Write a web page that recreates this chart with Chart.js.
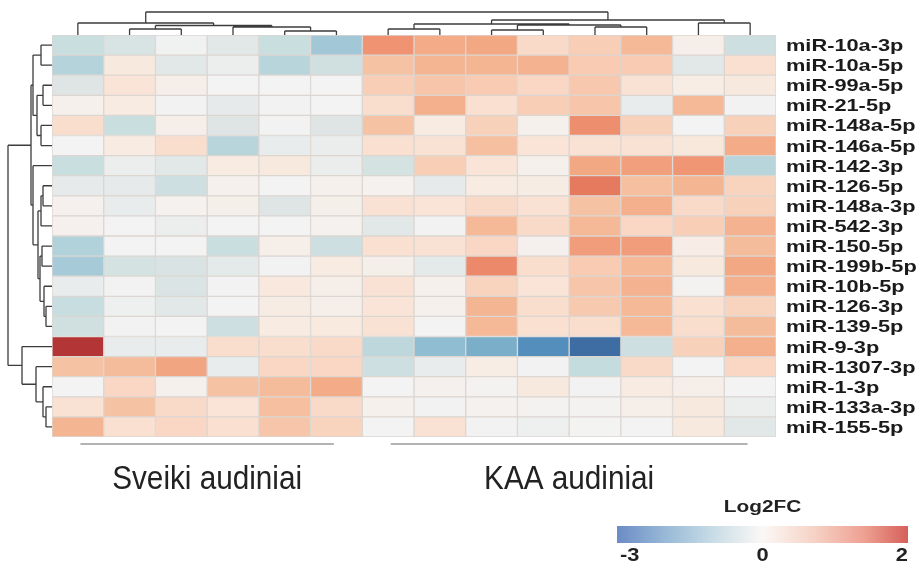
<!DOCTYPE html>
<html>
<head>
<meta charset="utf-8">
<script src="https://cdn.jsdelivr.net/npm/chart.js@4.4.1/dist/chart.umd.min.js"></script>
<style>
  html, body { margin: 0; padding: 0; background: #fff; }
  #wrap { width: 918px; height: 563px; }
</style>
</head>
<body>
<div id="wrap"><canvas id="heatmap" width="918" height="563"></canvas></div>
<script>
// Eilučių pavadinimai (miRNR)
const rowLabels = ['miR-10a-3p', 'miR-10a-5p', 'miR-99a-5p', 'miR-21-5p', 'miR-148a-5p',
    'miR-146a-5p', 'miR-142-3p', 'miR-126-5p', 'miR-148a-3p', 'miR-542-3p',
    'miR-150-5p', 'miR-199b-5p', 'miR-10b-5p', 'miR-126-3p', 'miR-139-5p',
    'miR-9-3p', 'miR-1307-3p', 'miR-1-3p', 'miR-133a-3p', 'miR-155-5p'];

// Mėginių grupės
const groupLabels = ['Sveiki audiniai', 'KAA audiniai'];
const groupSizes = [6, 8];

// Log2FC reikšmės: kiekviena eilutė = miRNR, stulpeliai = mėginiai
const log2fc = [
    [-0.6, -0.4, -0.05, -0.25, -0.6, -1.1, 1.75, 1.35, 1.4, 0.6, 0.8, 1.15, 0.15, -0.55],
    [-0.85, 0.3, -0.25, -0.1, -0.8, -0.5, 1.0, 1.2, 1.2, 1.25, 0.85, 0.85, -0.25, 0.5],
    [-0.3, 0.4, 0.15, 0, 0, 0, 0.8, 0.95, 0.85, 0.65, 0.9, 0.45, 0.2, 0.3],
    [0.1, 0.25, -0.02, -0.2, -0.02, 0, 0.55, 1.3, 0.5, 0.8, 0.95, -0.15, 1.15, 0.02],
    [0.55, -0.6, 0.15, -0.3, -0.02, -0.3, 1.0, 0.25, 0.75, 0.1, 1.8, 0.75, 0, 0.75],
    [0, 0.25, 0.55, -0.8, -0.15, -0.12, 0.5, 0.45, 1.05, 0.4, 0.45, 0.45, 0.35, 1.35],
    [-0.6, -0.1, -0.25, 0.25, 0.3, -0.12, -0.45, 0.8, 0.4, 0.1, 1.4, 1.55, 1.7, -0.8],
    [-0.2, -0.2, -0.55, 0.08, 0, 0.1, 0.05, -0.2, 0.25, 0.22, 2.0, 1.05, 1.2, 0.7],
    [0.08, -0.15, 0.06, 0.12, -0.3, 0.12, 0.45, 0.4, 0.6, 0.45, 1.0, 1.3, 0.6, 0.75],
    [0.08, 0, -0.1, 0, 0, 0.05, -0.25, -0.02, 1.15, 0.6, 1.15, 0.65, 0.8, 1.25],
    [-0.9, 0, 0, -0.6, 0.15, -0.55, 0.5, 0.45, 0.65, 0.08, 1.6, 1.6, 0.18, 1.1],
    [-1.05, -0.45, -0.38, -0.22, 0.02, 0.25, 0.12, -0.22, 1.85, 0.55, 0.85, 1.15, 0.3, 1.4],
    [-0.15, 0.02, -0.35, -0.02, 0.32, 0.15, 0.45, 0.1, 0.7, 0.4, 0.95, 1.25, 0.03, 1.3],
    [-0.62, -0.08, -0.25, 0, 0.22, 0.15, 0.4, 0.1, 1.2, 0.55, 0.88, 1.15, 0.5, 0.7],
    [-0.5, 0.02, 0, -0.55, 0.25, 0.28, 0.45, 0, 1.15, 0.5, 0.55, 1.15, 0.55, 1.1],
    [3.0, -0.15, -0.15, 0.55, 0.55, 0.6, -0.75, -1.35, -1.75, -2.4, -3.0, -0.55, 0.75, 1.3],
    [1.0, 1.1, 1.45, -0.15, 0.65, 0.65, -0.55, -0.15, 0.2, -0.02, -0.65, 0.6, 0, 0.65],
    [0, 0.65, 0.1, 1.0, 1.1, 1.35, 0, 0.08, 0.03, 0.3, 0.02, 0.25, 0.15, 0],
    [0.45, 1.0, 0.6, 0.4, 1.05, 0.6, 0.1, 0.02, 0.05, 0.03, 0.03, 0.15, 0.3, -0.1],
    [1.2, 0.5, 0.65, 0.5, 0.95, 0.7, 0, 0.45, -0.02, -0.08, 0.01, 0, 0.3, -0.25]
];

// Dendrogramos (hclust stiliaus sujungimai: neigiamas = lapas, teigiamas = ankstesnis sujungimas)
const colMerges = [[-5, -6], [-2, -3], [-4, 1], [2, 3], [-1, 4], [-11, -12], [-9, -10],
    [-7, -8], [7, 6], [8, 9], [-13, -14], [10, 11], [5, 12]];
const colHeights = [4, 6, 8, 9.5, 12, 8, 5, 6, 10, 11, 12, 15, 23];

const rowMerges = [[-1, -2], [-3, -4], [-5, -6], [2, 3], [1, 4], [-8, -9], [-10, 6],
    [-11, -12], [-14, -15], [-13, 9], [8, 10], [7, 11], [-7, 12], [5, 13],
    [-19, -20], [-18, 15], [-17, 16], [-16, 17], [14, 18]];
const rowHeights = [11, 9, 11, 15, 19, 9, 11, 10, 6, 8, 12, 14, 19, 21, 6, 9, 16, 30, 44];

// Spalvų skalės žymės
const legendTicks = [-3, 0, 2];

// Spalvų paletė langeliams
const paleta = [
    [-3.0, '#3e6da3'], [-2.4, '#548ebd'], [-1.75, '#7aaec9'], [-1.35, '#91bdd3'],
    [-1.0, '#a9ccd9'], [-0.6, '#c9dedf'], [-0.3, '#dfe5e5'], [0, '#f3f3f3'],
    [0.25, '#f8ebe1'], [0.5, '#f9e0d1'], [0.8, '#f8ceb6'], [1.1, '#f5bc9b'],
    [1.4, '#f3a884'], [1.75, '#ef9372'], [2.0, '#e67a5f'], [3.0, '#b33535']
];

function hexToRgb(h) {
    return [parseInt(h.slice(1, 3), 16), parseInt(h.slice(3, 5), 16), parseInt(h.slice(5, 7), 16)];
}

function colorFor(v) {
    if (v <= paleta[0][0]) return paleta[0][1];
    for (let i = 1; i < paleta.length; i++) {
        if (v <= paleta[i][0]) {
            const [v0, c0] = paleta[i - 1];
            const [v1, c1] = paleta[i];
            const t = (v - v0) / (v1 - v0);
            const a = hexToRgb(c0), b = hexToRgb(c1);
            const rgb = a.map((x, k) => Math.round(x + (b[k] - x) * t));
            return `rgb(${rgb[0]},${rgb[1]},${rgb[2]})`;
        }
    }
    return paleta[paleta.length - 1][1];
}

function texto(ctx, str, x, y, font, color, align, sx) {
    ctx.save();
    ctx.font = font;
    ctx.fillStyle = color;
    ctx.textAlign = align;
    ctx.textBaseline = 'alphabetic';
    ctx.translate(x, y);
    ctx.scale(sx, 1);
    ctx.fillText(str, 0, 0);
    ctx.restore();
}

// Dendrogramos piešimas: pos(lapas) -> pikselis, h -> pikselis
function piestiDendrograma(ctx, merges, heights, leafPos, heightPx, vertical) {
    const nodes = [];
    const node = (id) => id < 0 ? { p: leafPos(-id - 1), h: 0 } : nodes[id - 1];
    ctx.save();
    ctx.strokeStyle = '#3c3c3c';
    ctx.lineWidth = 1.3;
    ctx.beginPath();
    merges.forEach((m, i) => {
        const a = node(m[0]), b = node(m[1]);
        const hm = heightPx(heights[i]);
        const seg = (p, h1, h2) => {
            if (vertical) { ctx.moveTo(p, h1); ctx.lineTo(p, h2); }
            else { ctx.moveTo(h1, p); ctx.lineTo(h2, p); }
        };
        seg(a.p, heightPx(a.h), hm);
        seg(b.p, heightPx(b.h), hm);
        if (vertical) { ctx.moveTo(a.p, hm); ctx.lineTo(b.p, hm); }
        else { ctx.moveTo(hm, a.p); ctx.lineTo(hm, b.p); }
        nodes.push({ p: (a.p + b.p) / 2, h: heights[i] });
    });
    ctx.stroke();
    ctx.restore();
}

const nCols = groupSizes.reduce((a, b) => a + b, 0);

const priedai = {
    id: 'priedai',
    afterDraw(chart) {
        const ctx = chart.ctx;
        const x = chart.scales.x, y = chart.scales.y;
        const area = chart.chartArea;

        // Stulpelių dendrograma
        piestiDendrograma(ctx, colMerges, colHeights,
            i => x.getPixelForValue(i + 0.5), h => area.top - h, true);
        // Eilučių dendrograma
        piestiDendrograma(ctx, rowMerges, rowHeights,
            i => y.getPixelForValue(i), h => area.left - h, false);

        // Eilučių pavadinimai
        rowLabels.forEach((lab, i) => {
            texto(ctx, lab, area.right + 10, y.getPixelForValue(i) + 6,
                'bold 16.5px "Liberation Sans", Arial, sans-serif', '#1a1a1a', 'left', 1.32);
        });

        // Grupių linijos ir pavadinimai
        let start = 0;
        groupSizes.forEach((n, g) => {
            const end = start + n;
            const x1 = x.getPixelForValue(start + 0.55), x2 = x.getPixelForValue(end - 0.55);
            ctx.save();
            ctx.strokeStyle = '#9a9a9a';
            ctx.lineWidth = 1.5;
            ctx.beginPath();
            ctx.moveTo(x1, area.bottom + 7);
            ctx.lineTo(x2, area.bottom + 7);
            ctx.stroke();
            ctx.restore();
            texto(ctx, groupLabels[g], x.getPixelForValue((start + end) / 2), 489,
                '33px "Liberation Sans", Arial, sans-serif', '#222', 'center', 0.9);
            start = end;
        });

        // Spalvų skalė
        const lx = 617, lw = 291, ly = 526, lh = 17;
        const frac = v => v < 0 ? 0.5 * (v - legendTicks[0]) / (0 - legendTicks[0])
            : 0.5 + 0.5 * v / legendTicks[legendTicks.length - 1];
        const grad = ctx.createLinearGradient(lx, 0, lx + lw, 0);
        [[-3, '#6b8cc5'], [-2, '#98b9d7'], [-1, '#c9dde6'], [0, '#fbf8f6'],
         [0.7, '#f6d3c6'], [1.4, '#eea092'], [2, '#d6605a']].forEach(([v, c]) => grad.addColorStop(frac(v), c));
        ctx.fillStyle = grad;
        ctx.fillRect(lx, ly, lw, lh);

        texto(ctx, 'Log2FC', lx + lw / 2, 512,
            'bold 16px "Liberation Sans", Arial, sans-serif', '#222', 'center', 1.3);
        legendTicks.forEach((t, i) => {
            const align = i === 0 ? 'left' : (i === legendTicks.length - 1 ? 'right' : 'center');
            const px = i === 0 ? lx + 3 : (i === legendTicks.length - 1 ? lx + lw : lx + frac(t) * lw);
            texto(ctx, String(t), px, 561,
                'bold 19px "Liberation Sans", Arial, sans-serif', '#222', align, 1.15);
        });
    }
};

const datasets = [];
for (let c = 0; c < nCols; c++) {
    datasets.push({
        label: 'Mėginys ' + (c + 1),
        data: rowLabels.map(() => [c, c + 1]),
        backgroundColor: log2fc.map(fila => colorFor(fila[c])),
        borderColor: '#dcd6d2',
        borderWidth: 1,
        borderSkipped: false,
        barPercentage: 1,
        categoryPercentage: 1,
        grouped: false
    });
}

new Chart(document.getElementById('heatmap').getContext('2d'), {
    type: 'bar',
    data: { labels: rowLabels, datasets: datasets },
    options: {
        indexAxis: 'y',
        responsive: false,
        animation: false,
        layout: { padding: { left: 52, right: 142, top: 35, bottom: 126 } },
        plugins: {
            legend: { display: false },
            tooltip: { enabled: false }
        },
        scales: {
            x: { type: 'linear', min: 0, max: nCols, display: false },
            y: { type: 'category', display: false }
        }
    },
    plugins: [priedai]
});
</script>
</body>
</html>
